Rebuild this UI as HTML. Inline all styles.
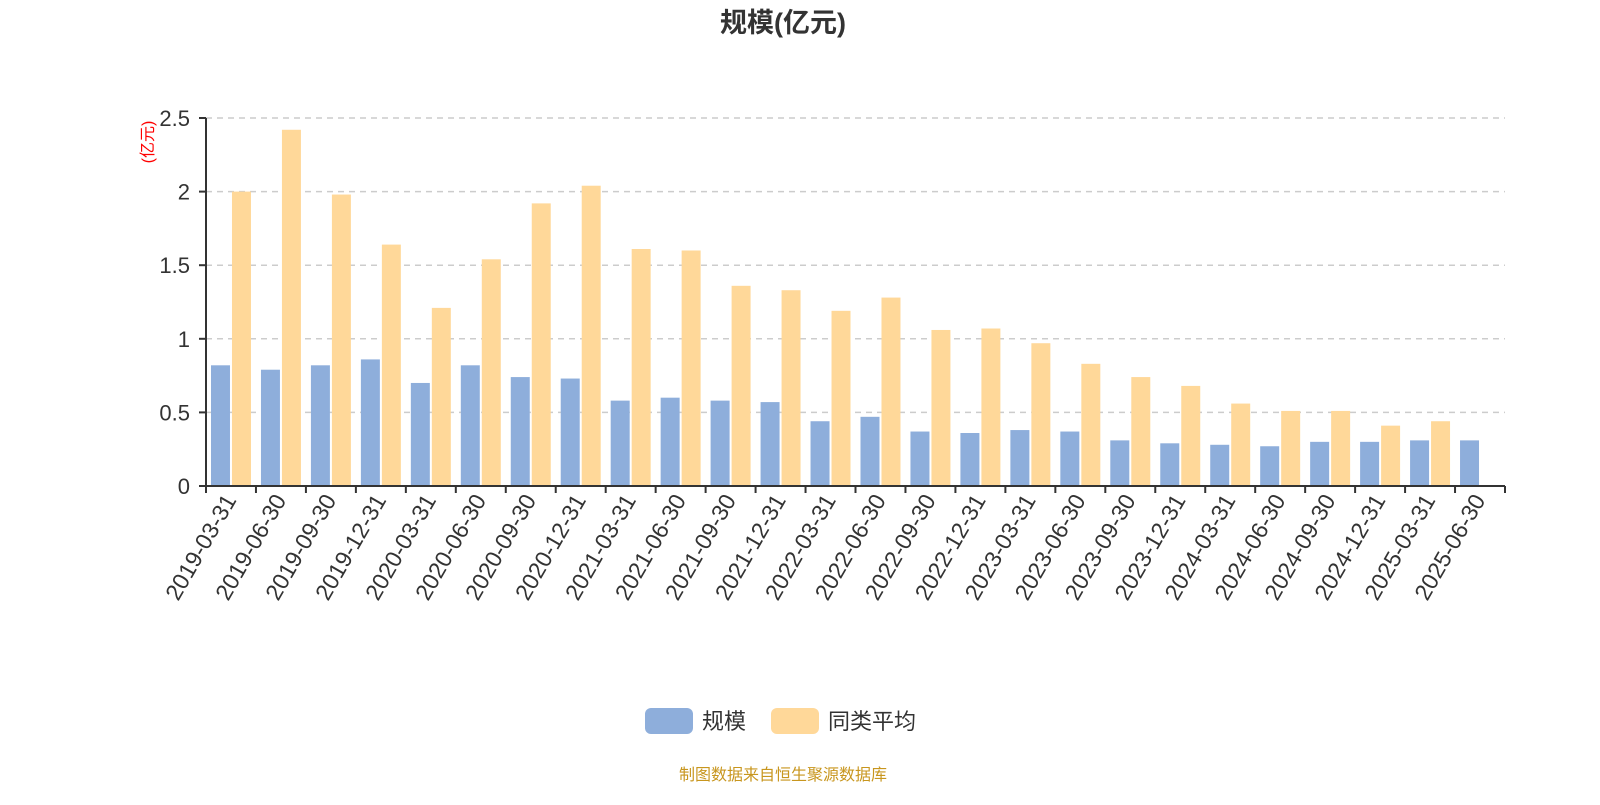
<!DOCTYPE html>
<html><head><meta charset="utf-8"><style>
body{margin:0;background:#fff;width:1600px;height:800px;overflow:hidden;font-family:"Liberation Sans","Noto Sans CJK SC",sans-serif;}
</style></head><body>
<svg id="c" width="1600" height="800" xmlns="http://www.w3.org/2000/svg" style="font-family:'Liberation Sans','Noto Sans CJK SC',sans-serif">
<text x="783" y="32" text-anchor="middle" font-size="27" font-weight="bold" fill="#333">规模(亿元)</text>
<text transform="translate(153,142) rotate(-90)" text-anchor="middle" font-size="16" fill="#f00">(亿元)</text>
<g id="grid"></g><g id="bars"></g><g id="axes"></g>
<g>
<rect x="645" y="708" width="48" height="26" rx="6" fill="#8eaedb"/>
<text x="702" y="729" font-size="22" fill="#333">规模</text>
<rect x="771" y="708" width="48" height="26" rx="6" fill="#ffd899"/>
<text x="828" y="729" font-size="22" fill="#333">同类平均</text>
</g>
<text x="783" y="780" text-anchor="middle" font-size="16" fill="#c8961e">制图数据来自恒生聚源数据库</text>
</svg>
<script>
const categories=["2019-03-31","2019-06-30","2019-09-30","2019-12-31","2020-03-31","2020-06-30","2020-09-30","2020-12-31","2021-03-31","2021-06-30","2021-09-30","2021-12-31","2022-03-31","2022-06-30","2022-09-30","2022-12-31","2023-03-31","2023-06-30","2023-09-30","2023-12-31","2024-03-31","2024-06-30","2024-09-30","2024-12-31","2025-03-31","2025-06-30"];
const scaleValues=[0.82,0.79,0.82,0.86,0.70,0.82,0.74,0.73,0.58,0.60,0.58,0.57,0.44,0.47,0.37,0.36,0.38,0.37,0.31,0.29,0.28,0.27,0.30,0.30,0.31,0.31];
const peerAvgValues=[2.00,2.42,1.98,1.64,1.21,1.54,1.92,2.04,1.61,1.60,1.36,1.33,1.19,1.28,1.06,1.07,0.97,0.83,0.74,0.68,0.56,0.51,0.51,0.41,0.44,null];
const yTicks=[0,0.5,1,1.5,2,2.5];
const yTickLabels=["0","0.5","1","1.5","2","2.5"];
const NS="http://www.w3.org/2000/svg";
const x0=206,x1=1505,y0=486,yTop=118,yMax=2.5;
const band=(x1-x0)/categories.length;
const y=v=>y0-(v/yMax)*(y0-yTop);
const xb=i=>x0+i*band;
function mk(t,a,p){const e=document.createElementNS(NS,t);for(const k in a)e.setAttribute(k,a[k]);p.appendChild(e);return e;}
const grid=document.getElementById('grid'),bars=document.getElementById('bars'),axes=document.getElementById('axes');
yTicks.forEach((v,i)=>{
 if(v>0){const g=mk('line',{x1:x0,x2:x1,y1:y(v),y2:y(v),stroke:'#ccc','stroke-dasharray':'6,5','stroke-width':1.5},grid);
 
 }
 const t=mk('line',{x1:x0-7,x2:x0,y1:y(v),y2:y(v),stroke:'#333','stroke-width':2},axes);
 
 
 const l=mk('text',{x:x0-16,y:y(v)+8,'text-anchor':'end','font-size':22,fill:'#333'},axes);
 l.textContent=yTickLabels[i];
 
 
});
const bw=band*0.38;
categories.forEach((c,i)=>{
 const bx=xb(i)+band*0.1;
 const r1=mk('rect',{x:bx,y:y(scaleValues[i]),width:bw,height:y0-y(scaleValues[i]),fill:'#8eaedb'},bars);
 
 
 if(peerAvgValues[i]!=null){
 const r2=mk('rect',{x:bx+bw+2,y:y(peerAvgValues[i]),width:bw,height:y0-y(peerAvgValues[i]),fill:'#ffd899'},bars);
 
 }
 const tk=mk('line',{x1:xb(i),x2:xb(i),y1:y0,y2:y0+7,stroke:'#333','stroke-width':2},axes);
 
 
 const cx=xb(i)+band/2+6;
 const t=mk('text',{x:cx,y:y0+14,'text-anchor':'end','font-size':23,fill:'#333',transform:`rotate(-60 ${cx} ${y0+14})`},axes);
 t.textContent=c;
 
 
});
const lt=mk('line',{x1:x1,x2:x1,y1:y0,y2:y0+7,stroke:'#333','stroke-width':2},axes);


const ax=mk('line',{x1:x0,x2:x1,y1:y0,y2:y0,stroke:'#333','stroke-width':2},axes);


const ay=mk('line',{x1:x0,x2:x0,y1:yTop,y2:y0,stroke:'#333','stroke-width':2},axes);


</script>
</body></html>
